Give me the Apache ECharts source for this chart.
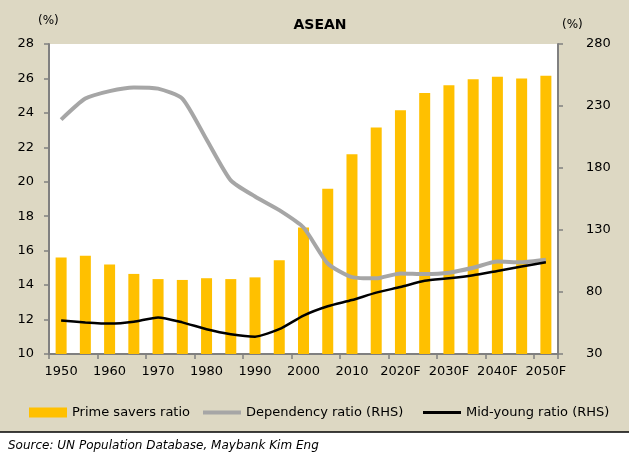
<!DOCTYPE html>
<html>
<head>
<meta charset="utf-8">
<script src="https://cdn.jsdelivr.net/npm/echarts@6/dist/echarts.min.js"></script>
<style>
  html, body { margin: 0; padding: 0; background: #ffffff; }
  #chart { width: 629px; height: 453px; }
</style>
</head>
<body>
<div id="chart"></div>
<script>
// Data
const years = ['1950', '1955', '1960', '1965', '1970', '1975', '1980', '1985', '1990', '1995', '2000',
    '2005', '2010', '2015', '2020F', '2025F', '2030F', '2035F', '2040F', '2045F', '2050F'];
const primeSavers = [15.6, 15.7, 15.2, 14.65, 14.35, 14.3, 14.4, 14.35, 14.45, 15.45, 17.35,
    19.6, 21.6, 23.15, 24.15, 25.15, 25.6, 25.95, 26.1, 26.0, 26.15];
const dependency = [219, 236, 242, 245, 244, 236, 203, 170, 157, 146, 132,
    103, 92, 91, 95, 94.5, 95.5, 99.5, 104.5, 104, 106];
const midYoung = [57, 55.5, 54.5, 56, 59.5, 55.5, 50, 46, 44, 50, 61,
    68.5, 73.5, 79.5, 84, 89, 91, 93.5, 97, 100.5, 104];

const font = 'DejaVu Sans';
const axisGray = '#808080';
const legendText = { fontSize: 13, color: '#000', fontFamily: font };

const chart = echarts.init(document.getElementById('chart'));

// one legend per item so each icon can have its own height
function legendAt(left, name, height) {
    return {
        left: left, top: 401,
        itemWidth: 38, itemHeight: height,
        icon: 'rect',
        textStyle: legendText,
        data: [name]
    };
}

const option = {
    backgroundColor: '#ddd8c3',
    textStyle: { fontFamily: font },
    animation: false,
    title: [
        { text: 'ASEAN', left: 315, top: 13, textAlign: 'center',
          textStyle: { fontSize: 14, fontWeight: 'bold', color: '#000', fontFamily: font } },
        { text: '(%)', left: 33, top: 10,
          textStyle: { fontSize: 12, fontWeight: 'normal', color: '#000', fontFamily: font } },
        { text: '(%)', left: 557, top: 14,
          textStyle: { fontSize: 12, fontWeight: 'normal', color: '#000', fontFamily: font } },
        { text: 'Source: UN Population Database, Maybank Kim Eng', left: 3, top: 435,
          textStyle: { fontSize: 12, fontWeight: 'normal', fontStyle: 'italic', color: '#000', fontFamily: font } }
    ],
    graphic: [
        { type: 'rect', shape: { x: 0, y: 432, width: 629, height: 21 }, style: { fill: '#ffffff' }, z: -1 },
        { type: 'line', shape: { x1: 0, y1: 432, x2: 629, y2: 432 }, style: { stroke: '#000', lineWidth: 1.5 } }
    ],
    grid: {
        left: 49, right: 71, top: 44, bottom: 99,
        show: true, backgroundColor: '#ffffff', borderWidth: 0
    },
    legend: [
        legendAt(24, 'Prime savers ratio', 10),
        legendAt(198, 'Dependency ratio (RHS)', 4),
        legendAt(418, 'Mid-young ratio (RHS)', 3)
    ],
    xAxis: {
        type: 'category',
        data: years,
        axisLine: { lineStyle: { color: axisGray, width: 2 } },
        axisTick: { show: true, length: 5, lineStyle: { color: axisGray, width: 1.5 } },
        axisLabel: { interval: 1, margin: 11, fontSize: 13, color: '#000' }
    },
    yAxis: [
        {
            type: 'value', min: 10, max: 28, interval: 2,
            axisLine: { show: true, lineStyle: { color: axisGray, width: 2 } },
            axisTick: { show: true, length: 5, lineStyle: { color: axisGray, width: 1.5 } },
            axisLabel: { margin: 15, fontSize: 13, color: '#000' },
            splitLine: { show: false }
        },
        {
            type: 'value', min: 30, max: 280, interval: 50,
            axisLine: { show: true, lineStyle: { color: axisGray, width: 2 } },
            axisTick: { show: true, length: 5, lineStyle: { color: axisGray, width: 1.5 } },
            axisLabel: { margin: 28, fontSize: 13, color: '#000' },
            splitLine: { show: false }
        }
    ],
    series: [
        {
            name: 'Prime savers ratio', type: 'bar', data: primeSavers,
            barWidth: 11, itemStyle: { color: '#ffc000' }
        },
        {
            name: 'Dependency ratio (RHS)', type: 'line', yAxisIndex: 1, data: dependency,
            smooth: 0.2, symbol: 'none',
            lineStyle: { color: '#a6a6a6', width: 4 }, itemStyle: { color: '#a6a6a6' }
        },
        {
            name: 'Mid-young ratio (RHS)', type: 'line', yAxisIndex: 1, data: midYoung,
            smooth: 0.2, symbol: 'none',
            lineStyle: { color: '#000000', width: 2.5 }, itemStyle: { color: '#000000' }
        }
    ]
};

chart.setOption(option);
</script>
</body>
</html>
